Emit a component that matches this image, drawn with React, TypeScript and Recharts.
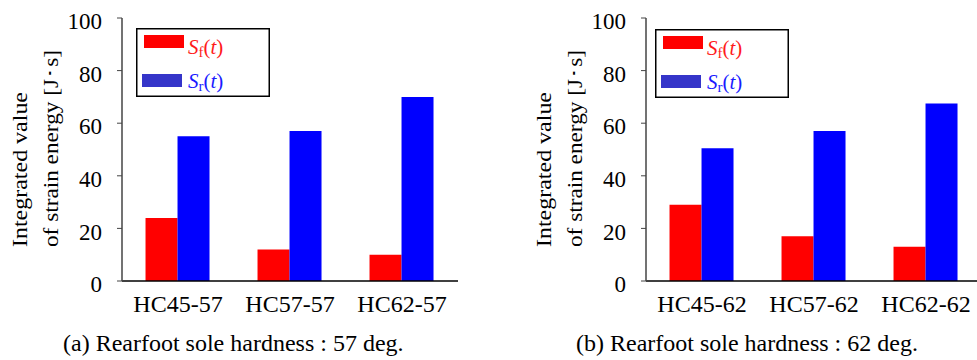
import { BarChart, Bar, XAxis, YAxis, Legend } from "recharts"

// hardness 57 deg (a)
const catsA = ["HC45-57", "HC57-57", "HC62-57"]
const sfA = [24, 12, 10]
const srA = [55, 57, 70]

// hardness 62 deg (b)
const catsB = ["HC45-62", "HC57-62", "HC62-62"]
const sfB = [29, 17, 13]
const srB = [50.5, 57, 67.5]

const yTicks = [0, 20, 40, 60, 80, 100]
const subs = ["f", "r"]
const barColors = ["#ff0000", "#0000ff"]
const swatchColors = ["#ff0000", "#3535c9"]
const textColors = ["#ff1a1a", "#1a1aff"]

const FONT = "Liberation Serif"

interface PanelProps {
  cats: string[]
  sf: number[]
  sr: number[]
  caption: string
  left: number
  legendLeft: number
  legendTop: number
  captionLeft: number
}

const LegendBox = (props: any) => {
  const payload = props.payload || []
  return (
    <svg width={134} height={69} style={{ display: "block" }}>
      <rect x={0.75} y={0.75} width={132.5} height={67.5} fill="#fff" stroke="#000" strokeWidth={1.5} />
      {payload.map((p: any, i: number) => (
        <g key={i}>
          <rect x={i === 0 ? 8 : 6} y={i === 0 ? 7 : 46} width={40} height={13} fill={swatchColors[i]} />
          <text x={52} y={i === 0 ? 26 : 60} fontSize={21} fontFamily={FONT} fill={textColors[i]}>
            <tspan fontStyle="italic">S</tspan>
            <tspan fontSize={15} dy={3}>{p.value}</tspan>
            <tspan dy={-3}>(</tspan>
            <tspan fontStyle="italic">t</tspan>
            <tspan>)</tspan>
          </text>
        </g>
      ))}
    </svg>
  )
}

const YLabel = (props: any) => {
  const vb = props.viewBox
  const right = vb.x + vb.width
  const y0 = vb.y + vb.height - 34
  const x1 = right - 95
  const x2 = right - 64
  return (
    <g fontFamily={FONT} fontSize={21} fill="#000">
      <text x={x1} y={y0} transform={`rotate(-90, ${x1}, ${y0})`} textLength={155} lengthAdjust="spacingAndGlyphs">
        Integrated value
      </text>
      <text x={x2} y={y0} transform={`rotate(-90, ${x2}, ${y0})`} textLength={197} lengthAdjust="spacingAndGlyphs">
        of strain energy  [J･s]
      </text>
    </g>
  )
}

const YTick = (props: any) => (
  <text x={props.x} y={props.y + 3} dy="0.355em" textAnchor="end" fontSize={23} fontFamily={FONT} fill="#000">
    {props.payload.value}
  </text>
)

const Panel = (props: PanelProps) => {
  const data = props.cats.map((c, i) => ({ cat: c, sf: props.sf[i], sr: props.sr[i] }))
  return (
    <div style={{ position: "absolute", left: props.left, top: 0, width: 470, height: 360 }}>
      <BarChart
        width={470}
        height={360}
        data={data}
        margin={{ top: 18, right: 12, left: 0, bottom: 49 }}
        barGap={0}
        barCategoryGap="21%"
      >
        <XAxis
          dataKey="cat"
          height={30}
          tickLine={false}
          tickSize={0}
          tickMargin={14}
          axisLine={{ stroke: "#000", strokeWidth: 1.5 }}
          tick={{ fill: "#000", fontSize: 24, fontFamily: FONT }}
        />
        <XAxis xAxisId="top" orientation="top" dataKey="cat" height={0} tick={false} tickLine={false} axisLine={{ stroke: "#000", strokeWidth: 1.5 }} />
        <YAxis
          width={122}
          domain={[0, 100]}
          ticks={yTicks}
          tickSize={5}
          tickMargin={15}
          axisLine={{ stroke: "#444", strokeWidth: 1.5 }}
          tickLine={{ stroke: "#444" }}
          tick={<YTick />}
          label={<YLabel />}
        />
        <YAxis yAxisId="right" orientation="right" width={0} domain={[0, 100]} tick={false} tickLine={false} axisLine={{ stroke: "#000", strokeWidth: 1.5 }} />
        <Legend
          layout="horizontal"
          verticalAlign="middle"
          align="center"
          content={<LegendBox />}
          wrapperStyle={{ left: props.legendLeft, top: props.legendTop, width: 134, height: 69 }}
        />
        <Bar dataKey="sf" name={subs[0]} fill={barColors[0]} isAnimationActive={false} />
        <Bar dataKey="sr" name={subs[1]} fill={barColors[1]} isAnimationActive={false} />
      </BarChart>
      <div
        style={{
          position: "absolute",
          left: props.captionLeft,
          top: 330,
          fontFamily: FONT,
          fontSize: 24,
          whiteSpace: "nowrap",
          color: "#000",
        }}
      >
        {props.caption}
      </div>
    </div>
  )
}

export default function App() {
  return (
    <div style={{ position: "absolute", left: 0, top: 0, width: 977, height: 360, overflow: "hidden", background: "#fff" }}>
      <Panel cats={catsA} sf={sfA} sr={srA} caption="(a) Rearfoot sole hardness : 57 deg." left={0} legendLeft={136} legendTop={28} captionLeft={63} />
      <Panel cats={catsB} sf={sfB} sr={srB} caption="(b) Rearfoot sole hardness : 62 deg." left={524} legendLeft={131} legendTop={29} captionLeft={52} />
    </div>
  )
}
